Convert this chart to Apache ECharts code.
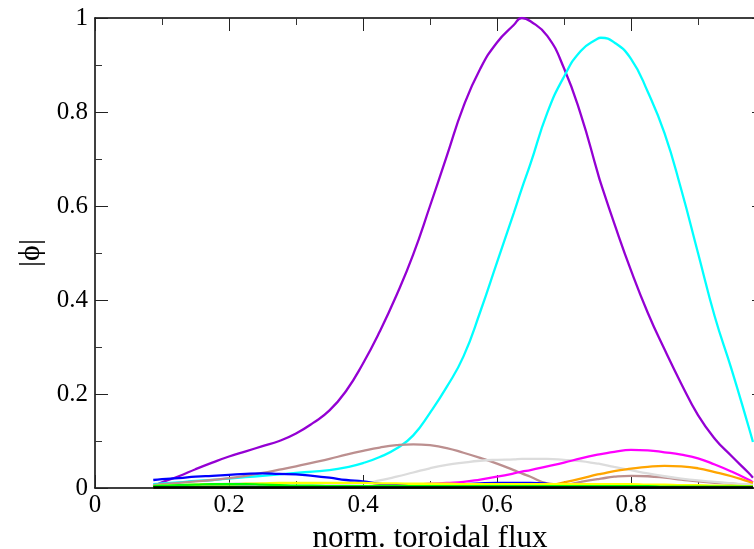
<!DOCTYPE html>
<html>
<head>
<meta charset="utf-8">
<title>|ϕ| vs norm. toroidal flux</title>
<script src="https://cdn.jsdelivr.net/npm/echarts@6/dist/echarts.min.js"></script>
<style>
  html, body { margin: 0; padding: 0; background: #fff; }
  #chart { width: 754px; height: 549px; }
</style>
</head>
<body>
<div id="chart"></div>
<script>
// radial grid (normalised toroidal flux)
const flux = [0.087, 0.1, 0.125, 0.15, 0.175, 0.2, 0.225, 0.25, 0.275, 0.3, 0.325, 0.35, 0.375, 0.4, 0.425, 0.45, 0.475, 0.5, 0.525, 0.55, 0.575, 0.6, 0.625, 0.637, 0.65, 0.675, 0.7, 0.725, 0.75, 0.755, 0.775, 0.8, 0.825, 0.85, 0.875, 0.9, 0.925, 0.95, 0.975, 0.982];

// mode amplitudes |phi|
const phiViolet  = [0.003, 0.012, 0.025, 0.040, 0.054, 0.067, 0.078, 0.089, 0.100, 0.116, 0.138, 0.165, 0.207, 0.265, 0.333, 0.410, 0.497, 0.600, 0.706, 0.812, 0.892, 0.948, 0.985, 1.000, 0.993, 0.962, 0.893, 0.795, 0.672, 0.648, 0.563, 0.463, 0.373, 0.295, 0.222, 0.155, 0.105, 0.068, 0.033, 0.022];
const phiCyan    = [0.008, 0.010, 0.012, 0.015, 0.017, 0.020, 0.023, 0.026, 0.029, 0.032, 0.035, 0.038, 0.044, 0.053, 0.066, 0.084, 0.112, 0.160, 0.215, 0.280, 0.375, 0.480, 0.585, 0.637, 0.690, 0.798, 0.875, 0.930, 0.956, 0.958, 0.948, 0.913, 0.843, 0.755, 0.635, 0.500, 0.365, 0.253, 0.133, 0.098];
const phiBrown   = [0.006, 0.008, 0.011, 0.014, 0.017, 0.021, 0.026, 0.032, 0.039, 0.046, 0.054, 0.062, 0.071, 0.079, 0.086, 0.091, 0.093, 0.091, 0.085, 0.075, 0.064, 0.052, 0.038, 0.031, 0.024, 0.010, 0.007, 0.013, 0.019, 0.020, 0.024, 0.026, 0.025, 0.022, 0.018, 0.014, 0.011, 0.009, 0.007, 0.006];
const phiGray    = [0.004, 0.005, 0.006, 0.007, 0.008, 0.009, 0.010, 0.010, 0.010, 0.010, 0.010, 0.009, 0.009, 0.010, 0.016, 0.024, 0.033, 0.042, 0.049, 0.054, 0.058, 0.060, 0.061, 0.062, 0.062, 0.062, 0.060, 0.057, 0.052, 0.051, 0.045, 0.038, 0.031, 0.025, 0.020, 0.016, 0.013, 0.010, 0.008, 0.008];
const phiMagenta = [0.003, 0.003, 0.003, 0.003, 0.003, 0.003, 0.003, 0.003, 0.003, 0.003, 0.004, 0.004, 0.004, 0.004, 0.005, 0.006, 0.007, 0.009, 0.011, 0.013, 0.018, 0.024, 0.031, 0.035, 0.038, 0.046, 0.054, 0.063, 0.071, 0.072, 0.077, 0.081, 0.080, 0.076, 0.071, 0.063, 0.050, 0.035, 0.018, 0.012];
const phiOrange  = [0.002, 0.002, 0.002, 0.002, 0.002, 0.002, 0.002, 0.002, 0.002, 0.002, 0.002, 0.002, 0.002, 0.002, 0.002, 0.002, 0.002, 0.002, 0.002, 0.002, 0.002, 0.002, 0.002, 0.002, 0.003, 0.005, 0.012, 0.020, 0.029, 0.030, 0.036, 0.041, 0.045, 0.047, 0.046, 0.042, 0.034, 0.025, 0.014, 0.011];
const phiBlue    = [0.017, 0.019, 0.021, 0.024, 0.026, 0.028, 0.030, 0.031, 0.030, 0.029, 0.026, 0.022, 0.017, 0.014, 0.009, 0.006, 0.005, 0.005, 0.006, 0.008, 0.010, 0.011, 0.011, 0.011, 0.011, 0.009, 0.004, 0.002, 0.002, 0.002, 0.002, 0.002, 0.002, 0.002, 0.002, 0.002, 0.002, 0.002, 0.002, 0.002];
const phiYellow  = [0.004, 0.005, 0.006, 0.007, 0.008, 0.008, 0.009, 0.010, 0.011, 0.011, 0.011, 0.011, 0.011, 0.011, 0.010, 0.010, 0.009, 0.009, 0.009, 0.008, 0.008, 0.008, 0.008, 0.008, 0.008, 0.008, 0.008, 0.008, 0.008, 0.008, 0.008, 0.008, 0.007, 0.007, 0.006, 0.006, 0.005, 0.005, 0.004, 0.004];
const phiGreen   = [0.004, 0.005, 0.006, 0.007, 0.008, 0.008, 0.008, 0.007, 0.006, 0.005, 0.005, 0.004, 0.004, 0.004, 0.004, 0.004, 0.004, 0.004, 0.004, 0.004, 0.004, 0.004, 0.004, 0.004, 0.004, 0.004, 0.004, 0.004, 0.004, 0.004, 0.004, 0.004, 0.004, 0.003, 0.003, 0.003, 0.003, 0.003, 0.003, 0.003];
const phiDkGreen = [0.002, 0.002, 0.002, 0.002, 0.002, 0.002, 0.002, 0.002, 0.002, 0.002, 0.002, 0.002, 0.002, 0.002, 0.002, 0.002, 0.002, 0.002, 0.002, 0.002, 0.002, 0.002, 0.002, 0.002, 0.002, 0.002, 0.002, 0.002, 0.002, 0.002, 0.002, 0.002, 0.002, 0.002, 0.002, 0.002, 0.002, 0.002, 0.002, 0.002];
const phiBlack   = [0.001, 0.001, 0.001, 0.001, 0.001, 0.001, 0.001, 0.001, 0.001, 0.001, 0.001, 0.001, 0.001, 0.001, 0.001, 0.001, 0.001, 0.001, 0.001, 0.001, 0.001, 0.001, 0.001, 0.001, 0.001, 0.001, 0.001, 0.001, 0.001, 0.001, 0.001, 0.001, 0.001, 0.001, 0.001, 0.001, 0.001, 0.001, 0.001, 0.001];

const xTicks = { min: 0, max: 1, interval: 0.2 };
const yTicks = { min: 0, max: 1, interval: 0.2 };

const modes = [
  { data: phiViolet,  color: '#9400d3' },
  { data: phiCyan,    color: '#00ffff' },
  { data: phiBrown,   color: '#bc8f8f' },
  { data: phiGray,    color: '#dcdcdc' },
  { data: phiMagenta, color: '#ff00ff' },
  { data: phiOrange,  color: '#ffa500' },
  { data: phiBlue,    color: '#0000ff' },
  { data: phiYellow,  color: '#ffff00' },
  { data: phiGreen,   color: '#00ff00' },
  { data: phiDkGreen, color: '#006400' },
  { data: phiBlack,   color: '#000000' }
];

const serif = 'Liberation Serif, Times New Roman, serif';

function frameAxis(extra) {
  return Object.assign({
    type: 'value',
    axisLine: { show: true, onZero: false, lineStyle: { color: '#000', width: 1.5 } },
    axisTick: { show: true, inside: true, length: 13, lineStyle: { color: '#222', width: 1 } },
    minorTick: { show: true, splitNumber: 2, length: 7, lineStyle: { color: '#333', width: 1 } },
    splitLine: { show: false },
    minorSplitLine: { show: false }
  }, extra);
}

const chart = echarts.init(document.getElementById('chart'), null, { renderer: 'canvas' });

chart.setOption({
  animation: false,
  backgroundColor: '#fff',
  grid: { left: 95, top: 18, right: -11, bottom: 61, containLabel: false, outerBoundsMode: 'none' },
  xAxis: [
    frameAxis(Object.assign({}, xTicks, {
      position: 'bottom',
      name: 'norm. toroidal flux',
      nameLocation: 'middle',
      nameGap: 29,
      nameTextStyle: { fontFamily: serif, fontSize: 31, color: '#000' },
      axisLabel: { fontFamily: serif, fontSize: 25, color: '#000', margin: 5 }
    })),
    frameAxis(Object.assign({}, xTicks, {
      position: 'top',
      axisLabel: { show: false }
    }))
  ],
  yAxis: [
    frameAxis(Object.assign({}, yTicks, {
      position: 'left',
      name: '|ϕ|',
      nameLocation: 'middle',
      nameGap: 48,
      nameRotate: 90,
      nameTextStyle: { fontFamily: serif, fontSize: 30, color: '#000' },
      axisLabel: { fontFamily: serif, fontSize: 25, color: '#000', margin: 7 }
    })),
    frameAxis(Object.assign({}, yTicks, {
      position: 'right',
      axisLabel: { show: false }
    }))
  ],
  series: modes.map(m => ({
    type: 'line',
    xAxisIndex: 0,
    yAxisIndex: 0,
    data: flux.map((x, i) => [x, m.data[i]]),
    smooth: 0.5,
    showSymbol: false,
    symbol: 'none',
    clip: true,
    lineStyle: { color: m.color, width: 2.3 },
    emphasis: { disabled: true }
  }))
});
</script>
</body>
</html>
